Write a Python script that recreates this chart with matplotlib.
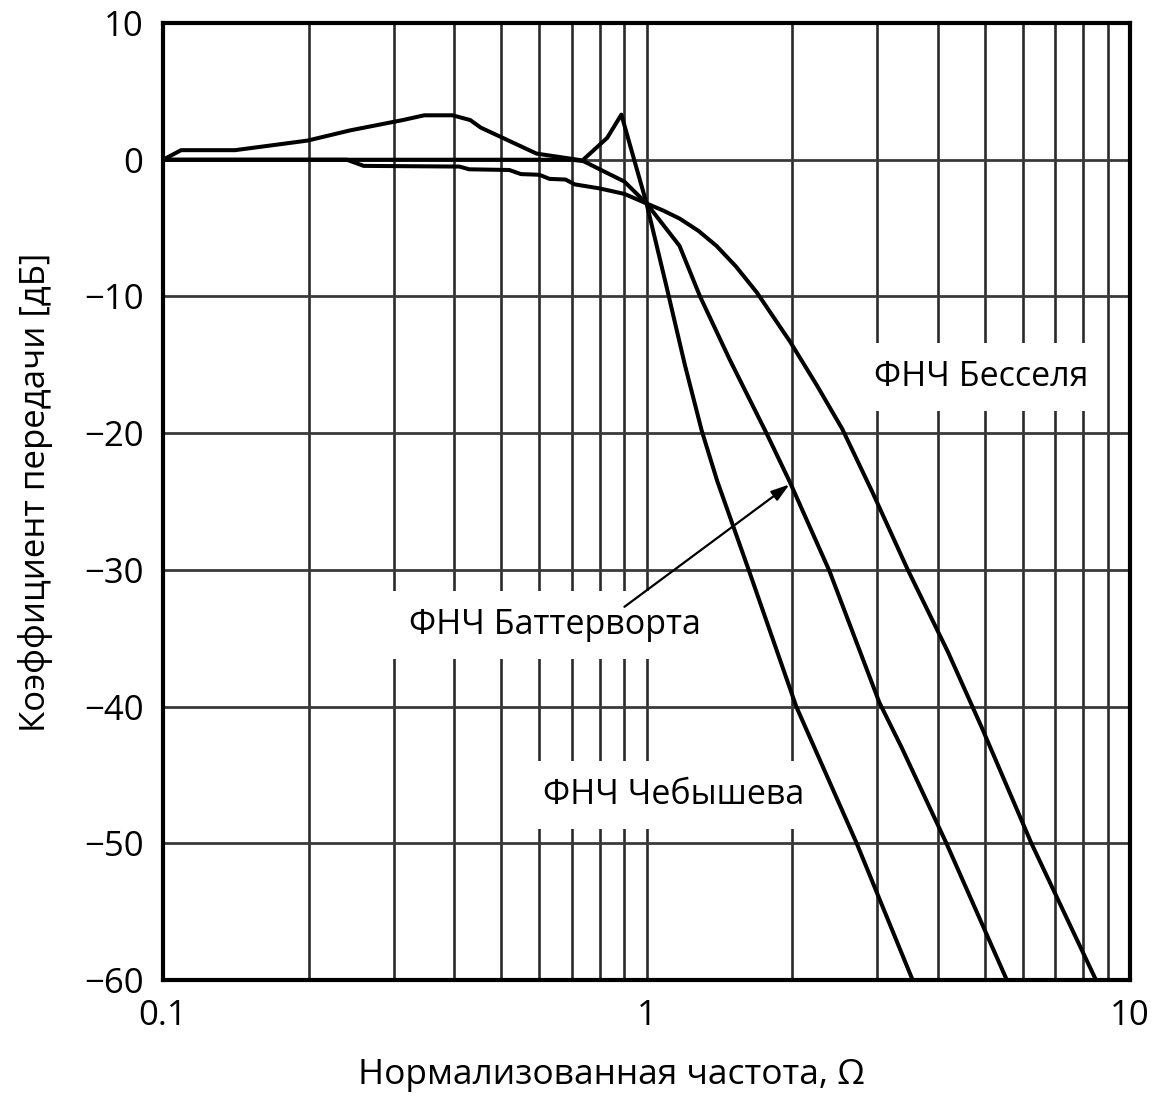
import matplotlib
matplotlib.use("Agg")
import matplotlib.pyplot as plt
import numpy as np

plt.rcParams['font.family'] = ['Open Sans', 'DejaVu Sans']

# ---- data ----
cheb_x = [0.1, 0.109, 0.141, 0.199, 0.244, 0.313, 0.347, 0.397, 0.432, 0.454, 0.592, 0.737,
          0.829, 0.887, 1.0, 1.1, 1.2, 1.3, 1.4, 1.63, 2.04, 2.72, 3.55]
cheb_y = [0.0, 0.7, 0.7, 1.4, 2.15, 2.9, 3.25, 3.25, 2.9, 2.35, 0.45, -0.05,
          1.6, 3.3, -3.2, -9.3, -15.0, -19.8, -23.5, -30.1, -40.0, -50.0, -60.0]

butt_x = [0.1, 0.7, 0.74, 0.8, 0.9, 1.0, 1.17, 1.29, 1.485, 1.77, 1.98, 2.39, 3.03, 3.37, 4.17, 5.56]
butt_y = [0.0, 0.0, -0.1, -0.7, -1.6, -3.2, -6.3, -10.0, -14.6, -20.0, -23.6, -30.1, -39.7, -43.0, -50.0, -60.0]

bess_x = [0.1, 0.24, 0.26, 0.41, 0.43, 0.52, 0.55, 0.6, 0.63, 0.68, 0.71, 0.8, 0.9, 1.0,
          1.08, 1.17, 1.28, 1.395, 1.53, 1.69, 1.98, 2.25, 2.54, 2.93, 3.47, 4.2, 4.93, 6.25, 8.5]
bess_y = [0.0, 0.0, -0.45, -0.5, -0.7, -0.75, -1.05, -1.1, -1.4, -1.45, -1.8, -2.1, -2.5, -3.2,
          -3.7, -4.3, -5.2, -6.3, -7.8, -9.7, -13.3, -16.5, -19.7, -24.3, -30.0, -36.0, -41.5, -50.0, -60.0]

y_ticks = [10, 0, -10, -20, -30, -40, -50, -60]
x_ticks = [0.1, 1, 10]
x_ticklabels = ["0.1", "1", "10"]

label_bessel = "ФНЧ Бесселя"
label_butter = "ФНЧ Баттерворта"
label_cheb = "ФНЧ Чебышева"
xlabel = "Нормализованная частота, Ω"
ylabel = "Коэффициент передачи [дБ]"

# ---- figure ----
fig = plt.figure(figsize=(11.52, 10.96), dpi=100)
ax = fig.add_axes([0.1415, 0.1058, 0.8395, 0.8732])
ax.set_xscale('log')
ax.set_xlim(0.1, 10)
ax.set_ylim(-60, 10)

# grid
gcol = '#2a2a2a'
for dec in [0.1, 1]:
    for k in range(2, 10):
        ax.axvline(dec * k, color=gcol, lw=1.9, zorder=1)
ax.axvline(1, color=gcol, lw=1.9, zorder=1)
for yv in y_ticks[1:-1]:
    ax.axhline(yv, color='#3a3a3a', lw=2.0, zorder=1)

lw = 2.9
ax.plot(cheb_x, cheb_y, color='black', lw=lw, zorder=5, solid_joinstyle='round')
ax.plot(butt_x, butt_y, color='black', lw=lw, zorder=5, solid_joinstyle='round')
ax.plot(bess_x, bess_y, color='black', lw=lw, zorder=5, solid_joinstyle='round')

for s in ax.spines.values():
    s.set_linewidth(3.0)
    s.set_color('black')
    s.set_zorder(6)

ax.set_xticks(x_ticks)
ax.set_xticklabels(x_ticklabels)
ax.xaxis.set_minor_locator(matplotlib.ticker.NullLocator())
ax.set_yticks(y_ticks)
ax.set_yticklabels([str(v).replace('-', '\u2212') for v in y_ticks])
ax.tick_params(axis='both', length=0, labelsize=25, colors='black')
ax.tick_params(axis='y', pad=14)
ax.tick_params(axis='x', pad=14)

ax.set_xlabel(xlabel, fontsize=25.5)
ax.set_ylabel(ylabel, fontsize=25)
ax.xaxis.set_label_coords(0.464, -0.081)
ax.yaxis.set_label_coords(-0.114, 0.51)

box = dict(boxstyle='square,pad=0.5', facecolor='white', edgecolor='none')
ax.text(4.91, -15.9, label_bessel, fontsize=24.5, ha='center', va='center', bbox=box, zorder=4)
ax.text(0.645, -34.0, label_butter, fontsize=24.5, ha='center', va='center', bbox=box, zorder=4)
ax.text(1.137, -46.5, label_cheb, fontsize=24.5, ha='center', va='center', bbox=box, zorder=4)

ax.annotate('', xy=(1.975, -23.75), xytext=(0.90, -32.7),
            arrowprops=dict(arrowstyle='-|>,head_length=1.1,head_width=0.35', color='black',
                            lw=1.6, shrinkA=0, shrinkB=0), zorder=7)

fig.savefig('out.png', dpi=100, facecolor='white')
